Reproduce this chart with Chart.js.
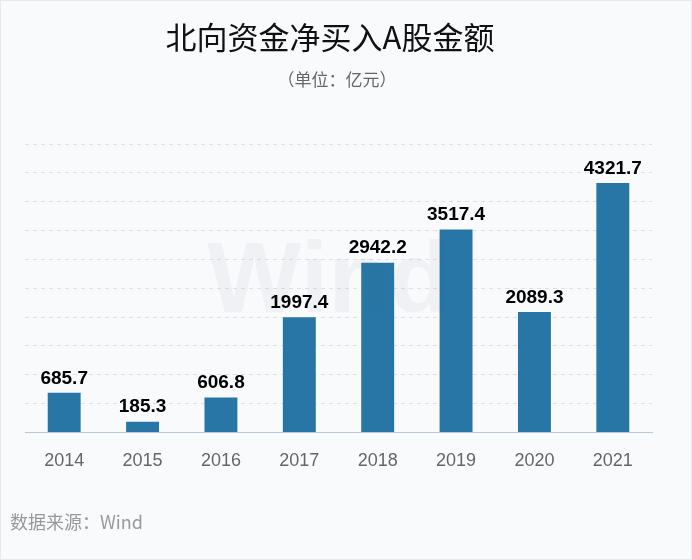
<!DOCTYPE html>
<html>
<head>
<meta charset="utf-8">
<script src="https://cdn.jsdelivr.net/npm/chart.js@4"></script>
<style>
    html, body { margin: 0; padding: 0; background: #f9fafc; }
</style>
</head>
<body>
<canvas id="northboundChart" width="692" height="560"></canvas>
<script>
// data (亿元)
const years = ['2014', '2015', '2016', '2017', '2018', '2019', '2020', '2021'];
const netBuy = [685.7, 185.3, 606.8, 1997.4, 2942.2, 3517.4, 2089.3, 4321.7];
const yMax = 5000;
const yStep = 500;

const titleText = '北向资金净买入A股金额';
const subtitleText = '（单位：亿元）';
const sourceText = '数据来源：Wind';

// background, titles, source and watermark
const decorPlugin = {
    id: 'decor',
    beforeDraw(chart) {
        const ctx = chart.ctx;
        ctx.save();
        ctx.fillStyle = '#f9fafc';
        ctx.fillRect(0, 0, chart.width, chart.height);
        ctx.strokeStyle = '#e6e8ec';
        ctx.lineWidth = 1;
        ctx.strokeRect(0.5, 0.5, chart.width - 1, chart.height - 1);

        ctx.textAlign = 'center';
        ctx.textBaseline = 'middle';
        ctx.fillStyle = '#111';
        ctx.font = '31px "Noto Sans CJK SC", sans-serif';
        ctx.fillText(titleText, 330, 37);
        ctx.fillStyle = '#666';
        ctx.font = '17px "Noto Sans CJK SC", sans-serif';
        ctx.fillText(subtitleText, 337, 80);

        ctx.textAlign = 'left';
        ctx.fillStyle = '#999';
        ctx.font = '18px "Noto Sans CJK SC", sans-serif';
        ctx.fillText(sourceText, 10, 522);
        ctx.restore();
    },
    afterDatasetsDraw(chart) {
        const ctx = chart.ctx;
        ctx.save();
        // faint watermark
        ctx.fillStyle = 'rgba(60, 70, 90, 0.05)';
        ctx.font = 'bold 100px "Liberation Sans", Arial, sans-serif';
        ctx.textAlign = 'left';
        ctx.textBaseline = 'alphabetic';
        ctx.fillText('Wind', 207, 312);

        // value labels above bars
        const meta = chart.getDatasetMeta(0);
        ctx.fillStyle = '#000';
        ctx.font = 'bold 19px "Liberation Sans", Arial, sans-serif';
        ctx.textAlign = 'center';
        ctx.textBaseline = 'bottom';
        meta.data.forEach((bar, i) => {
            ctx.fillText(netBuy[i].toFixed(1), bar.x, bar.y - 5);
        });
        ctx.restore();
    }
};

new Chart(document.querySelector('#northboundChart'), {
    type: 'bar',
    data: {
        labels: years,
        datasets: [{
            data: netBuy,
            backgroundColor: '#2776a6',
            barPercentage: 0.42,
            categoryPercentage: 1
        }]
    },
    options: {
        responsive: false,
        animation: false,
        layout: {
            padding: { top: 144, left: 25, right: 40, bottom: 70 }
        },
        plugins: {
            legend: { display: false },
            tooltip: { enabled: false }
        },
        scales: {
            x: {
                grid: { display: false, drawTicks: false },
                border: { color: '#b9c9dc', width: 1 },
                ticks: {
                    color: '#666',
                    padding: 18,
                    font: { family: '"Liberation Sans", Arial, sans-serif', size: 18 }
                }
            },
            y: {
                min: 0,
                max: yMax,
                grid: { color: '#dde1e7', drawTicks: false },
                border: { display: false, dash: [4, 4] },
                ticks: { display: false, stepSize: yStep }
            }
        }
    },
    plugins: [decorPlugin]
});
</script>
</body>
</html>
